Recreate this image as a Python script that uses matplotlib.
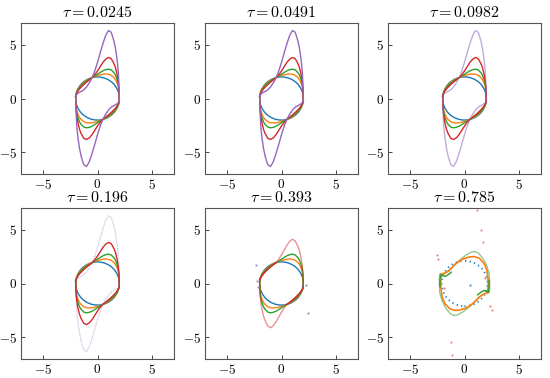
import numpy as np
import matplotlib
matplotlib.use("Agg")
from matplotlib import pyplot as plt
from matplotlib.patches import Circle

plt.rcParams["font.family"] = "serif"
plt.rcParams["font.serif"] = ["cmr10"]
plt.rcParams["mathtext.fontset"] = "cm"
plt.rcParams["axes.formatter.use_mathtext"] = True

taus = ["0.0245", "0.0491", "0.0982", "0.196", "0.393", "0.785"]

# upper branch of each closed curve, lower branch is the point reflection
xs = [-2.0, -1.95, -1.9, -1.8, -1.65, -1.5, -1.25, -1.0, -0.75, -0.5, -0.25, 0.0,
      0.25, 0.5, 0.75, 1.0, 1.25, 1.5, 1.65, 1.8, 1.9, 1.95, 2.0]
purple_y = [0.2, 0.3, 0.38, 0.48, 0.58, 0.66, 0.8, 1.08, 1.45, 1.92, 2.55, 3.35,
            4.25, 5.1, 5.85, 6.3, 6.15, 5.35, 4.6, 3.55, 2.5, 1.5, -0.2]
red_y = [0.2, 0.38, 0.5, 0.68, 0.88, 1.05, 1.3, 1.52, 1.72, 1.92, 2.2, 2.55,
         2.95, 3.35, 3.65, 3.8, 3.7, 3.25, 2.85, 2.2, 1.6, 1.05, -0.2]
green_y = [0.2, 0.42, 0.56, 0.78, 1.0, 1.18, 1.42, 1.62, 1.78, 1.93, 2.08, 2.25,
           2.42, 2.57, 2.67, 2.72, 2.65, 2.4, 2.15, 1.75, 1.35, 0.95, -0.2]
orange_y = [0.2, 0.46, 0.6, 0.84, 1.06, 1.25, 1.5, 1.68, 1.82, 1.94, 2.04, 2.13,
            2.2, 2.25, 2.27, 2.25, 2.15, 1.95, 1.75, 1.42, 1.1, 0.8, -0.2]
red5_y = [0.35, 0.45, 0.55, 0.7, 0.9, 1.07, 1.32, 1.54, 1.74, 1.94, 2.25, 2.65,
          3.1, 3.55, 3.9, 4.1, 3.95, 3.45, 3.0, 2.3, 1.65, 1.1, -0.35]
circle_r = 2.0

# tau = 0.785 panel: half curves from P to -P
orange6_x = [-2.1, -1.75, -1.4, -0.8, -0.2, 0.4, 0.85, 1.35, 1.8, 2.05, 2.15, 2.17, 2.1]
orange6_y = [0.85, 1.0, 1.22, 1.85, 2.25, 2.45, 2.5, 2.35, 1.85, 1.25, 0.5, -0.2, -0.85]
lgreen6_x = [-2.25, -1.8, -1.4, -0.9, -0.4, 0.1, 0.6, 0.95, 1.3, 1.7, 2.05, 2.25, 2.3, 2.3, 2.25]
lgreen6_y = [0.85, 0.95, 1.2, 1.7, 2.2, 2.6, 2.9, 2.97, 2.8, 2.3, 1.6, 0.9, 0.2, -0.5, -0.85]
dgreen6_x = [-2.25, -2.25, -2.2, -1.75, -1.45, -1.2]
dgreen6_y = [-0.3, 0.3, 0.8, 0.65, 0.85, 1.05]
circle6_r = 2.1
pink6_x = [1.5, 1.71, -2.56, -2.45, -1.25, -1.1, 2.35, 2.5, 1.1, 1.9, -1.9]
pink6_y = [4.97, 3.87, 2.65, 2.3, -5.4, -6.6, -2.1, -2.45, 6.8, 0.5, -0.4]
blue6_x = [0.52]
blue6_y = [-0.15]
purple5_x = [-2.35, 2.38, -2.2, -2.15, 2.2, 1.9]
purple5_y = [1.67, -2.75, 0.2, -0.3, -0.1, -0.25]

C_BLUE, C_ORANGE, C_GREEN, C_RED, C_PURPLE = "#1f77b4", "#ff7f0e", "#2ca02c", "#d62728", "#9467bd"


def closed(x, y):
    x = np.asarray(x)
    y = np.asarray(y)
    return np.concatenate([x, -x[1:]]), np.concatenate([y, -y[1:]])


fig = plt.figure(figsize=(5.5, 3.78), dpi=100)
lefts = [21, 205, 388]
bottoms = [204, 19]
axes = []
for r in range(2):
    for c in range(3):
        ax = fig.add_axes([lefts[c] / 550, bottoms[r] / 378, 153 / 550, 151 / 378])
        axes.append(ax)

lw = 1.0
for i, ax in enumerate(axes):
    if i < 5:
        ax.add_patch(Circle((0, 0), circle_r, fill=False, color=C_BLUE, lw=lw))
        ox, oy = closed(xs, orange_y)
        ax.plot(ox, oy, color=C_ORANGE, lw=lw)
        gx, gy = closed(xs, green_y)
        ax.plot(gx, gy, color=C_GREEN, lw=lw)
    if i < 4:
        rx, ry = closed(xs, red_y)
        ax.plot(rx, ry, color=C_RED, lw=lw)
        px, py = closed(xs, purple_y)
        if i < 2:
            ax.plot(px, py, color=C_PURPLE, lw=lw)
        elif i == 2:
            ax.plot(px, py, color=C_PURPLE, lw=lw, alpha=0.55)
        else:
            ax.plot(px, py, color=C_PURPLE, lw=0.9, alpha=0.45, ls=(0, (1, 0.8)))
    if i == 4:
        rx, ry = closed(xs, red5_y)
        ax.plot(rx, ry, color=C_RED, lw=lw, alpha=0.5)
        ax.plot(xs[:10], red5_y[:10], color=C_RED, lw=lw)
        ax.plot(-np.array(xs[:10]), -np.array(red5_y[:10]), color=C_RED, lw=lw)
        ax.plot(purple5_x, purple5_y, ls="none", marker=".", ms=1.5, color=C_PURPLE, alpha=0.6)
    if i == 5:
        ax.add_patch(Circle((0, 0), circle6_r, fill=False, color=C_BLUE, lw=1.4,
                            ls=(0, (0.6, 1.8))))
        gx, gy = closed(lgreen6_x, lgreen6_y)
        ax.plot(gx, gy, color=C_GREEN, lw=lw, alpha=0.55)
        ox, oy = closed(orange6_x, orange6_y)
        ax.plot(ox, oy, color=C_ORANGE, lw=1.2)
        ax.plot(dgreen6_x, dgreen6_y, color=C_GREEN, lw=lw)
        ax.plot(-np.array(dgreen6_x), -np.array(dgreen6_y), color=C_GREEN, lw=lw)
        ax.plot(pink6_x, pink6_y, ls="none", marker=".", ms=1.5, color=C_RED, alpha=0.4)
        ax.plot(blue6_x, blue6_y, ls="none", marker=".", ms=1.5, color=C_BLUE, alpha=0.6)

    ax.set_xlim(-7, 7)
    ax.set_ylim(-7, 7)
    ax.set_xticks([-5, 0, 5])
    ax.set_yticks([-5, 0, 5])
    ax.tick_params(direction="in", length=3, width=0.7, labelsize=9.5, pad=3,
                   color="#444444")
    for s in ax.spines.values():
        s.set_linewidth(0.8)
        s.set_color("#555555")
    ax.set_title(r"$\tau = %s$" % taus[i], fontsize=11.5, pad=4)

fig.savefig("out.png", dpi=100)
